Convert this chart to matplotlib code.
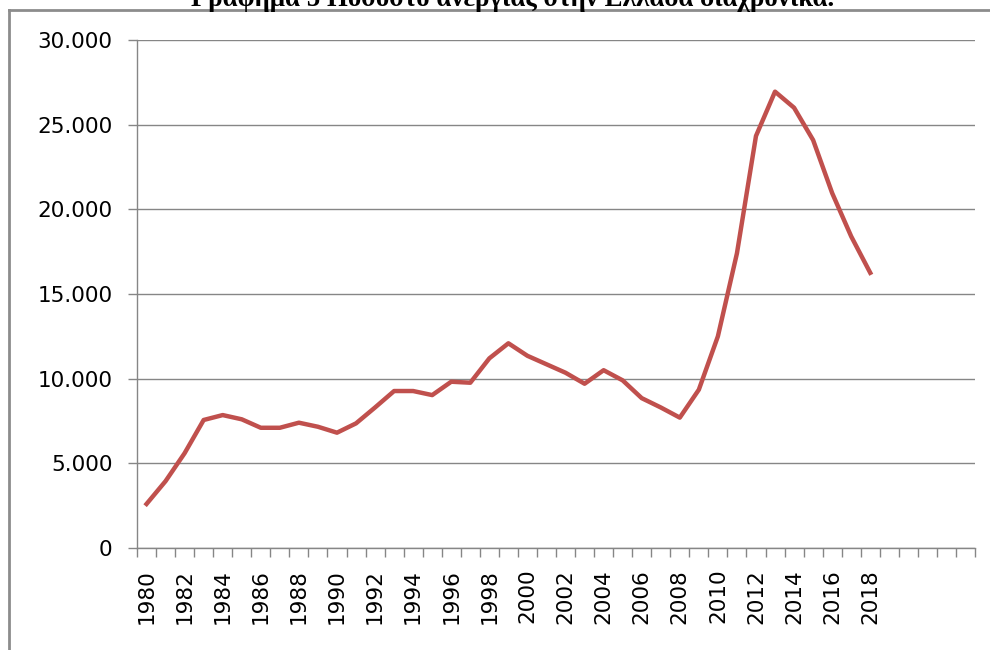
import matplotlib
matplotlib.use("Agg")
import matplotlib.pyplot as plt
from matplotlib.ticker import FixedLocator, FuncFormatter
from matplotlib.lines import Line2D

years = list(range(1980, 2019))
values = [2600, 3950, 5600, 7560, 7850, 7600, 7100, 7100, 7400, 7160,
          6810, 7360, 8300, 9270, 9270, 9030, 9820, 9760, 11200, 12090,
          11350, 10850, 10350, 9700, 10500, 9900, 8850, 8300, 7700, 9350,
          12500, 17400, 24330, 26950, 26000, 24090, 20960, 18400, 16250]
n_categories = 44
y_ticks = [0, 5000, 10000, 15000, 20000, 25000, 30000]
title = "Γράφημα 5 Ποσοστό ανεργίας στην Ελλάδα διαχρονικά."

W, H = 990, 650
fig = plt.figure(figsize=(W / 100, H / 100), dpi=100)
ax = fig.add_axes([137 / W, (H - 548) / H, (975 - 137) / W, (548 - 40) / H])

grey = "#868686"
xs = list(range(len(years)))
ax.plot(xs, values, color="#C0504D", linewidth=3.2, solid_joinstyle="round", zorder=3)

ax.set_xlim(-0.5, n_categories - 0.5)
ax.set_ylim(0, 30000)
ax.set_yticks(y_ticks)
ax.yaxis.set_major_formatter(FuncFormatter(lambda v, p: "0" if v == 0 else f"{int(v):,}".replace(",", ".")))
ax.grid(axis="y", color=grey, linewidth=1.0, zorder=0)

# category boundary ticks
ax.xaxis.set_major_locator(FixedLocator([i - 0.5 for i in range(n_categories + 1)]))
ax.xaxis.set_major_formatter(FuncFormatter(lambda v, p: ""))
label_pos = [i for i, y in enumerate(years) if y % 2 == 0]
ax.xaxis.set_minor_locator(FixedLocator(label_pos))
ax.set_xticklabels([str(years[i]) for i in label_pos], minor=True, rotation=90)

ax.tick_params(axis="x", which="major", length=6.5, width=1.0, color=grey, direction="out")
ax.tick_params(axis="x", which="minor", length=0, pad=15, labelsize=15.5)
ax.tick_params(axis="y", length=6.5, width=1.0, color=grey, pad=11, labelsize=15.5)

for s in ["top", "right"]:
    ax.spines[s].set_visible(False)
for s in ["left", "bottom"]:
    ax.spines[s].set_color(grey)
    ax.spines[s].set_linewidth(1.0)

# figure border (left and top)
fig.add_artist(Line2D([8.5 / W, 8.5 / W], [0, 1 - 10 / H], transform=fig.transFigure, color="#8c8c8c", linewidth=2.0))
fig.add_artist(Line2D([8.5 / W, 1], [1 - 10 / H, 1 - 10 / H], transform=fig.transFigure, color="#8c8c8c", linewidth=2.0))

fig.text(513 / W, 1 - 6 / H, title, ha="center", va="baseline", fontsize=19.4,
         fontweight="bold", family="Liberation Serif")

fig.savefig("out.png", dpi=100)
